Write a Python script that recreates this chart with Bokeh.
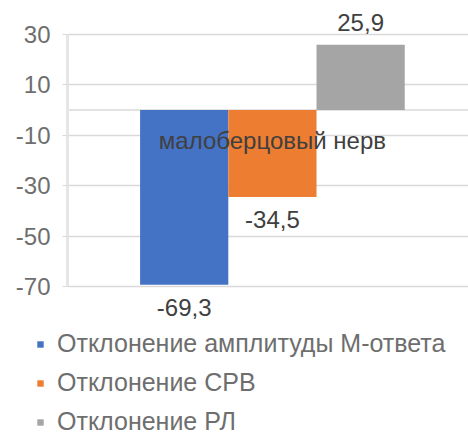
from bokeh.plotting import figure
from bokeh.layouts import column
from bokeh.models import (FactorRange, Range1d, FixedTicker, Span, Legend, LegendItem,
                          ColumnDataSource, CustomJSTickFormatter)
from bokeh.transform import dodge
from bokeh.embed import file_html
from bokeh.resources import INLINE
from bokeh.core.properties import value

category = "малоберцовый нерв"
series_names = ["Отклонение амплитуды М-ответа", "Отклонение СРВ", "Отклонение РЛ"]
series_values = [-69.3, -34.5, 25.9]
series_labels = ["-69,3", "-34,5", "25,9"]
colors = ["#4472C4", "#ED7D31", "#A5A5A5"]
y_ticks = [30, 10, -10, -30, -50, -70]

FONT = "Liberation Sans"
FS = "24px"
W = 468
H1, H2 = 320, 118
LEFT = 67
TXT = "#404040"
GRAY_TXT = "#6E6E6E"

# vertical mapping: 30 at px 34, -70 at px 286
ppu = 252 / 100.0
y_top = 30 + 34 / ppu
y_bot = -70 - (H1 - 286) / ppu

p = figure(width=W, height=H1, x_range=FactorRange(category, range_padding=0),
           y_range=Range1d(y_bot, y_top), output_backend="svg", toolbar_location=None,
           x_axis_location=None, min_border_left=LEFT, min_border_right=0,
           min_border_top=0, min_border_bottom=0)
p.frame_align = False
p.outline_line_color = None
p.xgrid.visible = False
p.ygrid.ticker = FixedTicker(ticks=y_ticks)
p.ygrid.grid_line_color = "#D9D9D9"
p.ygrid.grid_line_width = 1.5

ax = p.yaxis[0]
ax.ticker = FixedTicker(ticks=y_ticks)
ax.formatter = CustomJSTickFormatter(code="return String(tick);")
ax.bounds = (min(y_ticks), max(y_ticks))
ax.axis_line_color = "#E6E6E6"
ax.axis_line_width = 3
ax.major_tick_out = 5
ax.major_tick_in = 0
ax.minor_tick_line_color = None
ax.major_tick_line_color = "#D9D9D9"
ax.major_label_text_font = FONT
ax.major_label_text_font_size = FS
ax.major_label_text_color = GRAY_TXT
ax.major_label_standoff = 12

p.add_layout(Span(location=0, dimension="width", line_color="#D9D9D9", line_width=1.5, level="underlay"))

bw = 0.22
shift = 0.011
offsets = [(i - 1) * bw + shift for i in range(3)]
for i in range(3):
    src = ColumnDataSource(dict(cat=[category], val=[series_values[i]], lab=[series_labels[i]],
                                ly=[series_values[i] + (9 if series_values[i] > 0 else -9)]))
    p.vbar(x=dodge("cat", offsets[i], range=p.x_range), top="val", bottom=0, width=bw,
           source=src, fill_color=colors[i], line_color=None)
    p.text(x=dodge("cat", offsets[i], range=p.x_range), y="ly", text="lab", source=src,
           text_font=value(FONT), text_font_size=FS, text_color=TXT,
           text_align="center", text_baseline="middle")

csrc = ColumnDataSource(dict(cat=[category], y=[-12.0]))
p.text(x=dodge("cat", shift, range=p.x_range), y="y", text="cat", source=csrc,
       text_font=value(FONT), text_font_size=FS,
       text_color=TXT, text_align="center", text_baseline="middle")

# legend panel
q = figure(width=W, height=H2, x_range=Range1d(0, 1), y_range=Range1d(0, 1),
           output_backend="svg", toolbar_location=None, x_axis_location=None,
           y_axis_location=None, min_border=0)
q.frame_align = False
q.outline_line_color = None
q.grid.visible = False
leg_renderers = []
for i in range(3):
    # legend swatches only; the data lies outside the visible range
    r = q.vbar(x=[5], top=[5], bottom=[4], width=0.1, fill_color=colors[i], line_color=None)
    leg_renderers.append(r)

legend = Legend(items=[LegendItem(label=series_names[i], renderers=[leg_renderers[i]]) for i in range(3)],
                location=(36, 2), orientation="vertical", border_line_color=None,
                background_fill_alpha=0, padding=0, margin=0, spacing=10,
                glyph_width=8, glyph_height=8, label_height=24, label_standoff=13,
                label_text_font=FONT, label_text_font_size="25px", label_text_color=GRAY_TXT)
q.add_layout(legend)

open("out.html", "w").write(file_html(column(p, q, spacing=0), INLINE))
